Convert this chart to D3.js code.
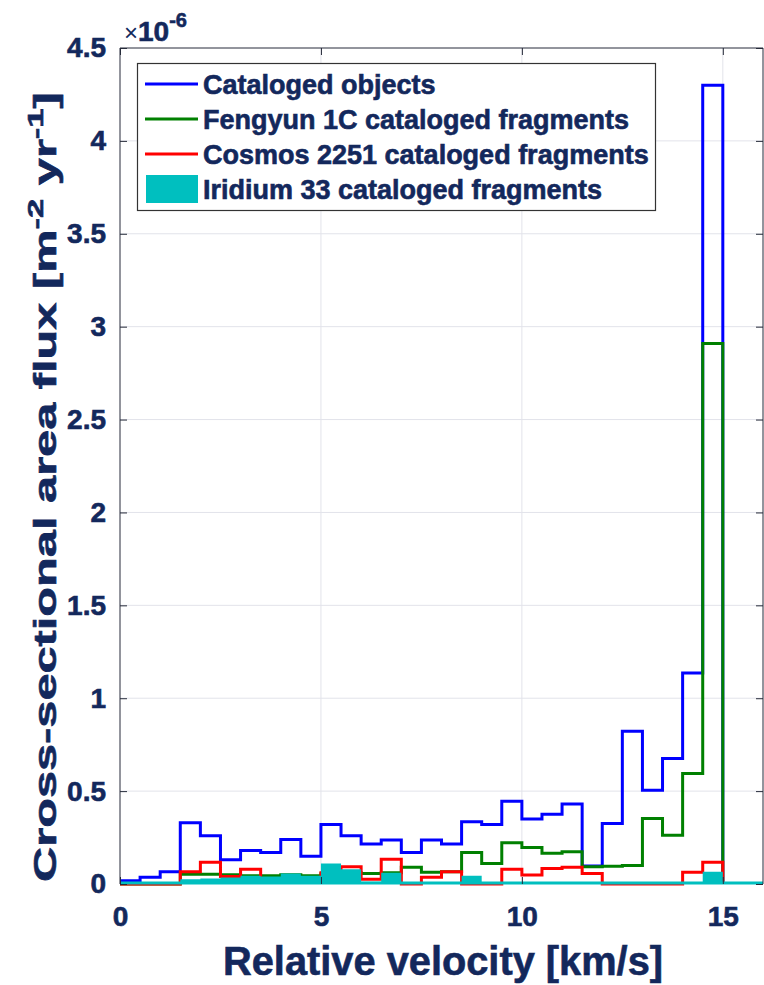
<!DOCTYPE html>
<html>
<head>
<meta charset="utf-8">
<script src="https://cdn.jsdelivr.net/npm/d3@7/dist/d3.min.js"></script>
<style>
  html, body { margin: 0; padding: 0; background: #ffffff; }
  svg { display: block; }
  text { font-family: "Liberation Sans", Arial, Helvetica, sans-serif; }
  .heavy { stroke: #13285c; stroke-width: 0.6px; paint-order: stroke; }
</style>
</head>
<body>
<svg id="chart" width="764" height="985"></svg>
<script>
// ---------- DATA ----------
// Bin start velocities [km/s] (bin width 0.5 km/s)
const binStarts = [0, 0.5, 1, 1.5, 2, 2.5, 3, 3.5, 4, 4.5, 5, 5.5, 6, 6.5, 7, 7.5,
                   8, 8.5, 9, 9.5, 10, 10.5, 11, 11.5, 12, 12.5, 13, 13.5, 14, 14.5];
const binEnd = 15;
// values in units of 1e-6 m^-2 yr^-1
const catalogedObjects = [0.018, 0.036, 0.066, 0.33, 0.26, 0.13, 0.18, 0.17, 0.24, 0.15,
                          0.32, 0.26, 0.215, 0.237, 0.17, 0.237, 0.215, 0.335, 0.32, 0.446,
                          0.35, 0.375, 0.43, 0.097, 0.326, 0.822, 0.505, 0.676, 1.136, 4.30];
const fengyun1C = [0, 0, 0, 0.052, 0.052, 0.05, 0.045, 0.045, 0.05, 0.045,
                   0.055, 0.06, 0.056, 0.06, 0.09, 0.063, 0.066, 0.17, 0.11, 0.222,
                   0.197, 0.165, 0.174, 0.093, 0.095, 0.1, 0.353, 0.263, 0.595, 2.91];
const cosmos2251 = [0, 0, 0, 0.066, 0.117, 0.04, 0.079, 0.02, 0.02, 0.02,
                    0.06, 0.093, 0.025, 0.133, 0, 0.036, 0.066, 0, 0, 0.079,
                    0.048, 0.084, 0.09, 0.057, 0, 0, 0, 0, 0.063, 0.117];
const iridium33 = [0.005, 0.005, 0.01, 0.025, 0.03, 0.035, 0.045, 0.04, 0.057, 0.045,
                   0.11, 0.079, 0.012, 0.061, 0, 0, 0, 0.045, 0, 0,
                   0, 0, 0, 0, 0, 0, 0, 0, 0, 0.066];
const xTicks = [0, 5, 10, 15];
const yTicks = [0, 0.5, 1, 1.5, 2, 2.5, 3, 3.5, 4, 4.5];
const legendLabels = ["Cataloged objects", "Fengyun 1C cataloged fragments",
                      "Cosmos 2251 cataloged fragments", "Iridium 33 cataloged fragments"];
const xLabel = "Relative velocity [km/s]";

// ---------- LAYOUT ----------
const plot = { left: 120, right: 763, top: 48, bottom: 884 };
const navy = "#13285c";
const colors = { blue: "#0000ff", green: "#008000", red: "#ff0000", cyan: "#00bfbf" };

const svg = d3.select("#chart");
const x = d3.scaleLinear().domain([0, 16]).range([plot.left, plot.right]);
const y = d3.scaleLinear().domain([0, 4.5]).range([plot.bottom, plot.top]);

// grid
const grid = svg.append("g");
grid.selectAll("line.gy").data(yTicks.filter(d => d > 0 && d < 4.5)).join("line")
  .attr("x1", plot.left).attr("x2", plot.right)
  .attr("y1", d => y(d)).attr("y2", d => y(d))
  .attr("stroke", "#e2e3ea").attr("stroke-width", 1);
grid.selectAll("line.gx").data(xTicks.filter(d => d > 0)).join("line")
  .attr("x1", d => x(d)).attr("x2", d => x(d))
  .attr("y1", plot.top).attr("y2", plot.bottom)
  .attr("stroke", "#e2e3ea").attr("stroke-width", 1);

// series
function stepPoints(vals) {
  const pts = binStarts.map((b, i) => [b, vals[i]]);
  pts.push([binEnd, 0]);
  return pts;
}
const line = d3.line().x(d => x(d[0])).y(d => y(d[1])).curve(d3.curveStepAfter);
const series = [
  { vals: catalogedObjects, color: colors.blue },
  { vals: fengyun1C, color: colors.green },
  { vals: cosmos2251, color: colors.red }
];
series.forEach(s => {
  svg.append("path").attr("d", line(stepPoints(s.vals)))
    .attr("fill", "none").attr("stroke", s.color).attr("stroke-width", 3)
    .attr("stroke-linejoin", "miter");
});
// Iridium filled area
const areaPts = stepPoints(iridium33);
areaPts.push([16, 0]);
const area = d3.area().x(d => x(d[0])).y0(y(0)).y1(d => y(d[1])).curve(d3.curveStepAfter);
svg.append("path").attr("d", area(areaPts)).attr("fill", colors.cyan).attr("stroke", "none");
svg.append("line").attr("x1", x(0)).attr("x2", x(16)).attr("y1", y(0) - 1).attr("y2", y(0) - 1)
  .attr("stroke", colors.cyan).attr("stroke-width", 3);

// axes box
const axisColor = "#262b3a";
svg.append("line").attr("x1", plot.left).attr("x2", plot.left).attr("y1", plot.top).attr("y2", plot.bottom)
  .attr("stroke", axisColor).attr("stroke-width", 1);
svg.append("line").attr("x1", plot.left).attr("x2", plot.right).attr("y1", plot.top).attr("y2", plot.top)
  .attr("stroke", axisColor).attr("stroke-width", 1);
svg.append("line").attr("x1", plot.right).attr("x2", plot.right).attr("y1", plot.top).attr("y2", plot.bottom)
  .attr("stroke", axisColor).attr("stroke-width", 1);

// y axis via d3
const yAxis = d3.axisLeft(y).tickValues(yTicks).tickSize(-7).tickPadding(14)
  .tickFormat(d => d3.format("~g")(d));
const gy = svg.append("g").attr("transform", `translate(${plot.left},0)`).call(yAxis);
gy.select(".domain").remove();
gy.selectAll(".tick line").attr("stroke", axisColor);
gy.selectAll(".tick text").attr("fill", navy).attr("font-size", 28).attr("font-weight", "bold")
  .attr("class", "heavy");
const yAxisR = d3.axisRight(y).tickValues(yTicks).tickSize(-7).tickFormat("");
const gyr = svg.append("g").attr("transform", `translate(${plot.right},0)`).call(yAxisR);
gyr.select(".domain").remove();
gyr.selectAll(".tick line").attr("stroke", axisColor);

// x axis via d3
const xAxis = d3.axisBottom(x).tickValues(xTicks).tickSize(-7).tickPadding(22);
const gx = svg.append("g").attr("transform", `translate(0,${plot.bottom})`).call(xAxis);
gx.select(".domain").remove();
gx.selectAll(".tick line").attr("stroke", axisColor);
gx.selectAll(".tick text").attr("fill", navy).attr("font-size", 28).attr("font-weight", "bold")
  .attr("class", "heavy");
const xAxisT = d3.axisTop(x).tickValues(xTicks).tickSize(-7).tickFormat("");
const gxt = svg.append("g").attr("transform", `translate(0,${plot.top})`).call(xAxisT);
gxt.select(".domain").remove();
gxt.selectAll(".tick line").attr("stroke", axisColor);

// x label
svg.append("text").attr("x", 443).attr("y", 975).attr("text-anchor", "middle")
  .attr("fill", navy).attr("font-size", 40).attr("font-weight", "bold").attr("class", "heavy")
  .attr("textLength", 440).attr("lengthAdjust", "spacingAndGlyphs")
  .text(xLabel);

// y label (rotated, stretched along its direction)
const yl = svg.append("g").attr("transform", "translate(56,487) rotate(-90)");
const ylt = yl.append("text").attr("fill", navy).attr("font-size", 31).attr("font-weight", "bold")
  .attr("class", "heavy");
ylt.append("tspan").text("Cross-sectional area flux [m");
ylt.append("tspan").attr("font-size", 22).attr("dy", -13).text("-2");
ylt.append("tspan").attr("dy", 13).text(" yr");
ylt.append("tspan").attr("font-size", 22).attr("dy", -13).text("-1");
ylt.append("tspan").attr("dy", 13).text("]");
const natW = ylt.node().getComputedTextLength();
const sx = 790 / natW;
ylt.attr("transform", `scale(${sx},1) translate(${-natW / 2},0)`);

// exponent label
const ex = svg.append("text").attr("x", 124).attr("y", 41).attr("fill", navy);
ex.append("tspan").attr("font-size", 24).text("\u00d7");
ex.append("tspan").attr("font-size", 28).attr("font-weight", "bold").attr("class", "heavy").text("10");
ex.append("tspan").attr("font-size", 20).attr("font-weight", "bold").attr("class", "heavy")
  .attr("dy", -14).text("-6");

// legend
const lg = svg.append("g");
lg.append("rect").attr("x", 137.5).attr("y", 63.5).attr("width", 518).attr("height", 147)
  .attr("fill", "#ffffff").attr("stroke", "#333333").attr("stroke-width", 1.2);
const lgRowY = [84, 119, 154, 189];
const lgColors = [colors.blue, colors.green, colors.red, colors.cyan];
legendLabels.forEach((lab, i) => {
  if (i < 3) {
    lg.append("line").attr("x1", 145).attr("x2", 198).attr("y1", lgRowY[i]).attr("y2", lgRowY[i])
      .attr("stroke", lgColors[i]).attr("stroke-width", 3);
  } else {
    lg.append("rect").attr("x", 146).attr("y", lgRowY[i] - 14).attr("width", 52).attr("height", 28)
      .attr("fill", lgColors[i]);
  }
  lg.append("text").attr("x", 203).attr("y", lgRowY[i] + 10).attr("fill", navy)
    .attr("font-size", 27).attr("font-weight", "bold").attr("class", "heavy").text(lab);
});
</script>
</body>
</html>
